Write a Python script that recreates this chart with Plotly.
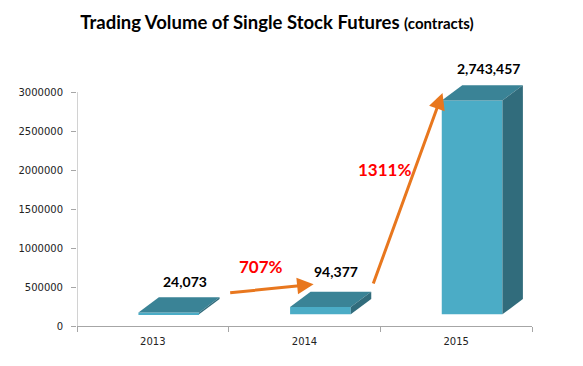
import plotly.graph_objects as go

years = ["2013", "2014", "2015"]
volumes = [24073, 94377, 2743457]
value_labels = ["24,073", "94,377", "2,743,457"]
growth_labels = ["707%", "1311%"]
y_ticks = [0, 500000, 1000000, 1500000, 2000000, 2500000, 3000000]

# 3D styling parameters (in axis units)
BASE = 150000      # floor lift of the 3D bars
OFFSET = -0.095    # front face left edge relative to category center
WIDTH = 0.40       # front face width
DX = 0.135         # depth in x
DY = 195000        # depth in y

FRONT = "#4BACC6"
TOP = "#3A8396"
SIDE = "#316C7C"

xs = list(range(len(years)))
fig = go.Figure()

# front faces
fig.add_trace(go.Bar(x=xs, y=volumes, base=[BASE] * len(xs), width=WIDTH,
                     offset=OFFSET, marker=dict(color=FRONT, line=dict(width=0)),
                     hoverinfo="skip", showlegend=False))

# top and side faces
for x, v in zip(xs, volumes):
    l = x + OFFSET
    r = l + WIDTH
    top = BASE + v
    fig.add_trace(go.Scatter(x=[l, r, r + DX, l + DX, l], y=[top, top, top + DY, top + DY, top],
                             fill="toself", fillcolor=TOP, mode="lines", line=dict(width=0),
                             hoverinfo="skip", showlegend=False))
    fig.add_trace(go.Scatter(x=[r, r + DX, r + DX, r, r], y=[BASE, BASE + DY, top + DY, top, BASE],
                             fill="toself", fillcolor=SIDE, mode="lines", line=dict(width=0),
                             hoverinfo="skip", showlegend=False))

annotations = []
# value labels
label_dy = [400000, 460000, 410000]
for x, v, t, d in zip(xs, volumes, value_labels, label_dy):
    annotations.append(dict(x=x + 0.21, y=BASE + v + d, text=t, showarrow=False,
                            font=dict(family="Lato", size=14, color="black", weight="bold"),
                            xref="x", yref="y"))

ORANGE = "#E8771E"
# growth arrows
arrows = [
    (0.5, BASE + volumes[0] + 250000, 1.06, BASE + volumes[1] + 290000),
    (1.45, BASE + volumes[1] + 280000, 1.91, BASE + volumes[2] + 95000),
]
for (x0, y0, x1, y1) in arrows:
    annotations.append(dict(x=x1, y=y1, ax=x0, ay=y0, xref="x", yref="y", axref="x", ayref="y",
                            showarrow=True, arrowhead=2, arrowsize=1.1, arrowwidth=3,
                            arrowcolor=ORANGE, text=""))
# growth labels
annotations.append(dict(x=0.71, y=0.76e6, text=growth_labels[0], showarrow=False, xref="x", yref="y",
                        font=dict(family="Lato", size=17, color="#FF0000", weight="bold")))
annotations.append(dict(x=1.53, y=2.01e6, text=growth_labels[1], showarrow=False, xref="x", yref="y",
                        font=dict(family="Lato", size=17, color="#FF0000", weight="bold")))

fig.update_layout(
    width=583, height=366,
    margin=dict(l=77, r=51, t=57, b=40),
    paper_bgcolor="white", plot_bgcolor="white",
    title=dict(text="<b>Trading Volume of Single Stock Futures <span style='font-size:15px'>(contracts)</span></b>",
               x=277 / 583, xanchor="center", xref="container", y=1 - 23 / 366, yanchor="middle",
               font=dict(family="Lato", size=18.5, color="black")),
    xaxis=dict(range=[-0.5, 2.5], tickvals=xs, ticktext=years, ticks="", showgrid=False,
               zeroline=False, showline=True, linecolor="#A6A6A6", linewidth=1,
               tickfont=dict(family="DejaVu Sans", size=10, color="#222"),
               ticklabelstandoff=6,
               minor=dict(ticks="outside", tick0=0.5, dtick=1, ticklen=5, tickcolor="#A6A6A6")),
    yaxis=dict(range=[0, 3450000], tickvals=y_ticks, ticktext=[str(v) for v in y_ticks],
               ticks="outside", ticklen=5, tickcolor="#A6A6A6", showgrid=False, zeroline=False,
               showline=False, tickfont=dict(family="DejaVu Sans", size=10, color="#222"),
               ticklabelstandoff=6),
    annotations=annotations,
    shapes=[dict(type="line", xref="x", yref="y", x0=-0.5, x1=-0.5, y0=0, y1=y_ticks[-1],
                 line=dict(color="#A6A6A6", width=1), layer="below")],
)

fig.write_html("out.html", post_script="document.body.style.margin='0px';",
               config={"displayModeBar": False})
